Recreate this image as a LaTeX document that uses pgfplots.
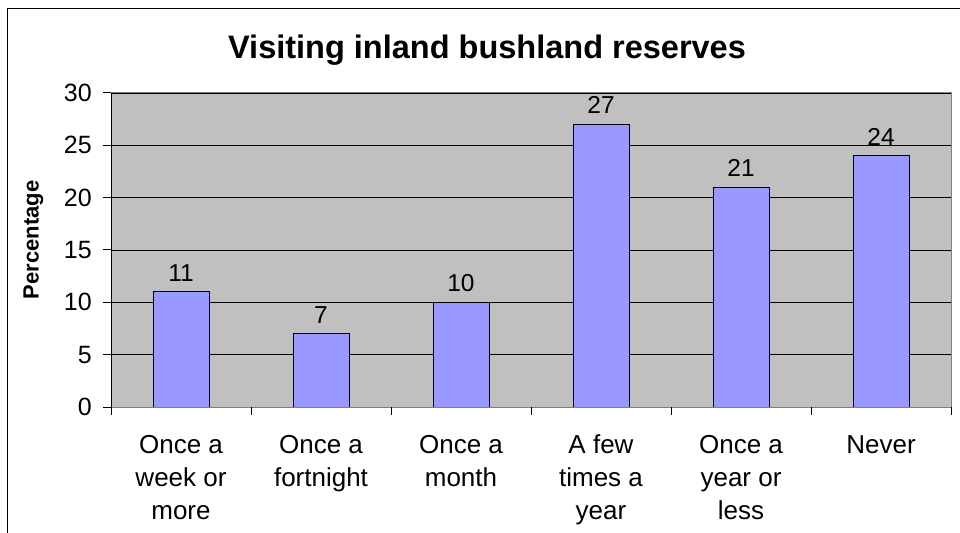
\documentclass[border=0pt]{standalone}
\usepackage{pgfplots}
\pgfplotsset{compat=1.18}
\usepackage{fontspec}
\setmainfont{Liberation Sans}
\definecolor{bg}{HTML}{C0C0C0}
\definecolor{barc}{HTML}{9999FF}
\definecolor{bord}{HTML}{808080}
\begin{document}
\begin{tikzpicture}
\useasboundingbox (0,0) rectangle (960bp,533bp);
\draw[line width=1bp] (7.5bp,0) -- (7.5bp,524.5bp) -- (960bp,524.5bp);
\node[font=\fontsize{32.5bp}{36bp}\selectfont\bfseries, anchor=base] at (487bp,474bp) {Visiting inland bushland reserves};
\begin{axis}[
  at={(111bp,126bp)}, anchor=south west,
  scale only axis, width=840bp, height=314bp,
  ybar, bar width=56bp,
  xmin=-0.5, xmax=5.5, ymin=0, ymax=30,
  ytick={0,5,...,30},
  xtick={0,...,5},
  xticklabels={{\strut Once a\\week or\\more},{\strut Once a\\fortnight},{\strut Once a\\month},{\strut A few\\times a\\year},{\strut Once a\\year or\\less},{\strut Never}},
  xtick style={draw=none},
  extra x ticks={-0.5,0.5,...,5.5},
  extra x tick labels={},
  extra x tick style={xtick style={draw=black}},
  tick pos=left, tick align=outside, major tick length=8bp,
  tick style={black, line width=1bp},
  axis background/.style={fill=bg},
  axis line style={draw=bord, line width=1bp},
  ymajorgrids, grid style={black, line width=0.8bp},
  /pgf/number format/assume math mode=true,
  yticklabel style={font=\fontsize{25bp}{29bp}\selectfont, inner sep=0pt, xshift=-11bp},
  xticklabel style={font=\fontsize{26bp}{33bp}\selectfont, align=center, inner sep=0pt, yshift=-15bp},
  ylabel={Percentage},
  ylabel style={font=\fontsize{22bp}{26bp}\selectfont\bfseries, at={(axis description cs:-0.0925,0.532)}, anchor=center},
  nodes near coords,
  point meta=y,
  nodes near coords style={font=\fontsize{24.5bp}{28bp}\selectfont, anchor=south, inner sep=0pt, yshift=10bp},
]
\addplot[fill=barc, draw=black, line width=1bp] coordinates {(0,11) (1,7) (2,10) (3,27) (4,21) (5,24)};
\draw[bord, line width=1bp] (rel axis cs:0,1) -- (rel axis cs:1,1) -- (rel axis cs:1,0);
\draw[black, line width=1bp] (rel axis cs:0,1) -- (rel axis cs:0,0) -- (rel axis cs:1,0);
\end{axis}
\end{tikzpicture}
\end{document}
